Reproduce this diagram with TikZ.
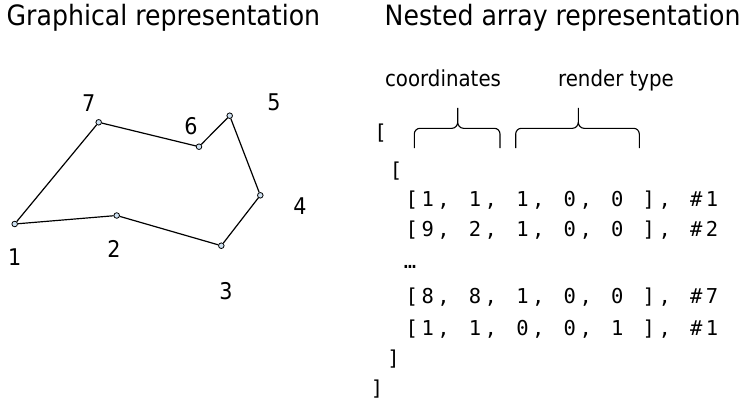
\documentclass[tikz,border=0pt]{standalone}
\usepackage{fontspec}
\setmainfont{DejaVu Sans}[FakeStretch=0.9]
\newfontfamily\monof{DejaVu Sans Mono}
\newlength\mcw
\setlength\mcw{15.8pt}
\makeatletter
\newcommand\mrow[1]{\@tfor\mch:=#1\do{\makebox[\mcw][c]{\mch}}}
\makeatother
\definecolor{ptfill}{HTML}{CFE2F3}
\begin{document}
\begin{tikzpicture}[x=1pt,y=-1pt,
  titletext/.style={anchor=base west,inner sep=0,font=\fontsize{28}{32}\selectfont},
  lbl/.style={inner sep=0,font=\fontsize{23}{26}\selectfont},
  captext/.style={anchor=base,inner sep=0,font=\fontsize{22}{26}\selectfont},
  monorow/.style={anchor=base west,inner sep=0,font=\monof\fontsize{20.5}{24}\selectfont},
  brk/.style={anchor=base,inner sep=0,font=\monof\fontsize{20.5}{24}\selectfont},
  ptmark/.style={circle,draw,fill=ptfill,inner sep=0,minimum size=5.6pt,line width=0.8pt},
  polyline/.style={line width=1.2pt},
  bracepath/.style={line width=1.1pt}]
\useasboundingbox (0,0) rectangle (744,405);
% titles
\node[titletext] (t1) at (6.5,25.7) {Graphical representation};
\node[titletext] (t2) at (384.5,25.7) {Nested array representation};
% polygon
\node[ptmark] (p1) at (14.7,224) {};
\node[ptmark] (p2) at (116.7,215.5) {};
\node[ptmark] (p3) at (221.3,245.7) {};
\node[ptmark] (p4) at (260.3,195.3) {};
\node[ptmark] (p5) at (229.7,115.7) {};
\node[ptmark] (p6) at (199,146.7) {};
\node[ptmark] (p7) at (98.7,122.3) {};
\draw[polyline] (p1) -- (p2) (p2) -- (p3) (p3) -- (p4) (p4) -- (p5)
  (p5) -- (p6) (p6) -- (p7) (p7) -- (p1);
\node[lbl] (l1) at (14.7,256.7) {1};
\node[lbl] (l2) at (114,248.5) {2};
\node[lbl] (l3) at (226,291) {3};
\node[lbl] (l4) at (300,206) {4};
\node[lbl] (l5) at (274,102.7) {5};
\node[lbl] (l6) at (191,126) {6};
\node[lbl] (l7) at (88.7,102.7) {7};
% captions and braces
\node[captext] (c1) at (443,86) {coordinates};
\node[captext] (c2) at (616,86) {render type};
\draw[bracepath] (414.3,148) -- (414.3,134) to[out=90,in=180] (420,128.3)
  -- (452,128.3) to[out=0,in=-90] (457.7,122) -- (457.7,107.8)
  -- (457.7,122) to[out=-90,in=180] (463.4,128.3) -- (494.3,128.3)
  to[out=0,in=90] (500,134) -- (500,148);
\draw[bracepath] (515.7,148) -- (515.7,134) to[out=90,in=180] (521.4,128.3)
  -- (572.6,128.3) to[out=0,in=-90] (578.3,122) -- (578.3,107.8)
  -- (578.3,122) to[out=-90,in=180] (584,128.3) -- (633.6,128.3)
  to[out=0,in=90] (639.3,134) -- (639.3,148);
% array
\node[brk] (ob) at (380.5,139) {[};
\node[brk] (ib) at (396,177.3) {[};
\node[monorow] (r1) at (403.8,206.5) {\mrow{[1,~1,~1,~0,~0~],~\#1}};
\node[monorow] (r2) at (403.8,236.5) {\mrow{[9,~2,~1,~0,~0~],~\#2}};
\node[brk] (el) at (410,268) {…};
\node[monorow] (r3) at (403.8,303.5) {\mrow{[8,~8,~1,~0,~0~],~\#7}};
\node[monorow] (r4) at (403.8,335) {\mrow{[1,~1,~0,~0,~1~],~\#1}};
\node[brk] (ic) at (393.5,365.3) {]};
\node[brk] (oc) at (377,395.3) {]};
\end{tikzpicture}
\end{document}
